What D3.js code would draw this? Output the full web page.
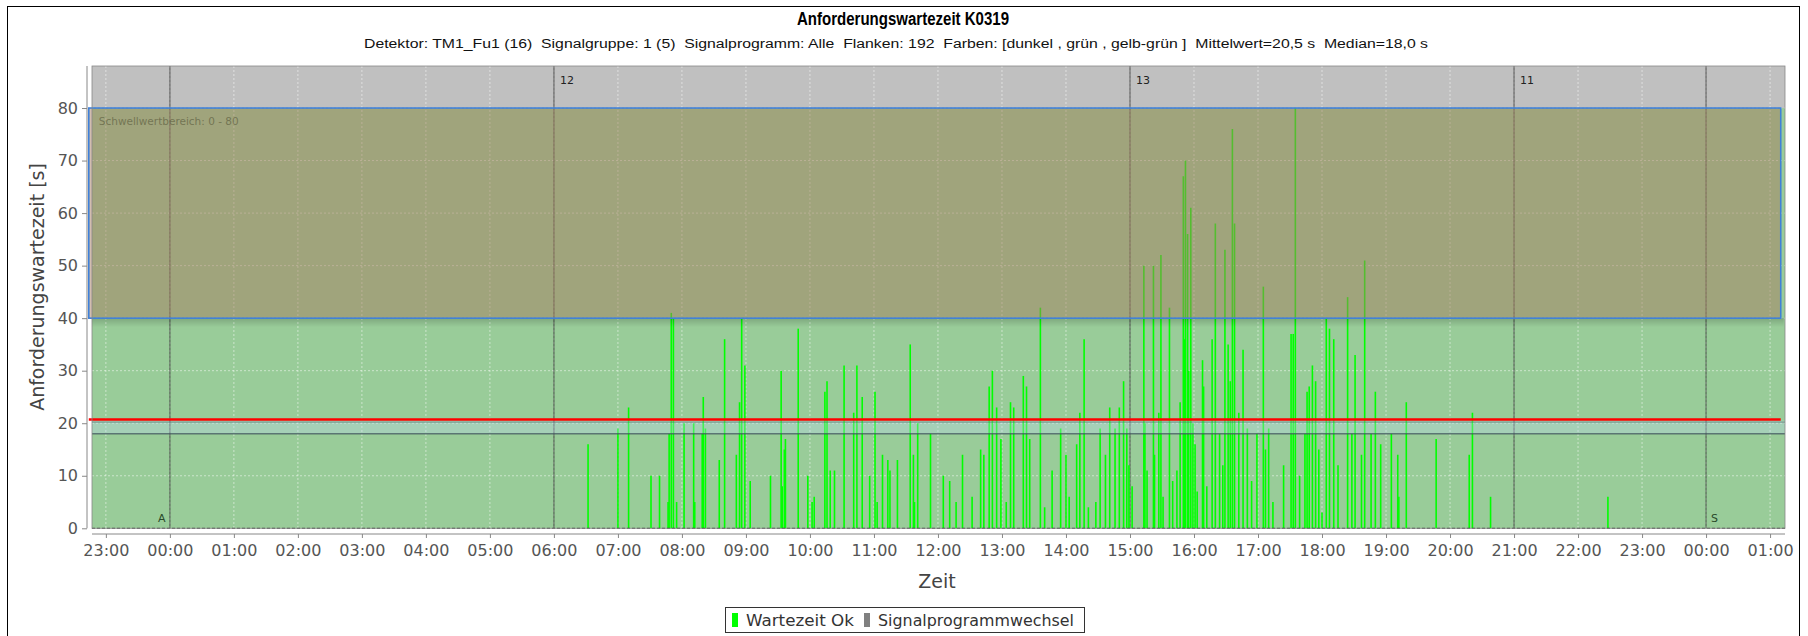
<!DOCTYPE html>
<html><head><meta charset="utf-8">
<script src="https://cdn.jsdelivr.net/npm/d3@7"></script>
<style>
html,body{margin:0;padding:0;background:#fff;}
svg{display:block;}
text{font-family:"DejaVu Sans",sans-serif;}
</style></head><body>
<svg id="chart" width="1808" height="636"></svg>
<script>
// ---- data ----
const waitTimes = ["06:32","07:00","07:10","07:31","07:39","07:47","07:48","07:50","07:52","07:55",
"08:02","08:11","08:12","08:19","08:20","08:22","08:35","08:40","08:51","08:54","08:56","08:59",
"09:04","09:23","09:33","09:34","09:36","09:37","09:49","09:58",
"10:02","10:04","10:14","10:16","10:19","10:23","10:32","10:41","10:44","10:49","10:56",
"11:01","11:03","11:08","11:13","11:15","11:22","11:34","11:37","11:38","11:41","11:53",
"12:05","12:11","12:17","12:23","12:32","12:40","12:43","12:48","12:51","12:55","12:59",
"13:04","13:08","13:11","13:20","13:23","13:26","13:36","13:40","13:47","13:55",
"14:00","14:03","14:10","14:13","14:17","14:21","14:28","14:32","14:37","14:41","14:46","14:50","14:54","14:57","14:59",
"15:02","15:13","15:14","15:16","15:22","15:23","15:27","15:29","15:31","15:37","15:40","15:44","15:47","15:50","15:51","15:52","15:54","15:55","15:57","15:59",
"16:01","16:03","16:08","16:09","16:12","16:17","16:20","16:24","16:27","16:29","16:32","16:34","16:36","16:38","16:42","16:46","16:50","16:54","16:59",
"17:05","17:07","17:10","17:14","17:24","17:31","17:33","17:35","17:39","17:44","17:46","17:48","17:51","17:54","17:57",
"18:00","18:04","18:07","18:11","18:15","18:24","18:28","18:31","18:37","18:40","18:46","18:50","18:55",
"19:05","19:11","19:12","19:19","19:47","20:18","20:21","20:38","22:28"];
const waitValues = [16,19,23,10,10,5,18,41,40,5,
20,20,5,18,25,19,13,36,14,24,40,31,
9,10,30,8,15,17,38,10,
5,6,26,28,11,11,31,22,31,25,10,
26,5,14,13,11,13,35,14,5,20,18,
10,9,5,14,6,15,14,27,30,23,17,
5,24,23,29,27,17,42,4,11,19,
14,6,16,22,36,4,5,19,14,23,19,23,28,19,12,
8,50,20,11,50,14,22,52,6,42,9,11,24,67,36,70,56,30,61,20,
16,7,32,27,8,36,58,18,12,53,35,28,76,58,22,34,19,9,18,
46,15,19,5,12,37,37,80,10,18,26,27,31,28,15,
3,40,38,36,12,44,18,33,14,51,18,26,16,
18,14,6,24,17,14,22,6,6];
const dataDay = "2000-01-02";
const programTimes = ["2000-01-02 00:00","2000-01-02 06:00","2000-01-02 15:00","2000-01-02 21:00","2000-01-03 00:00"];
const programLabels = ["A","12","13","11","S"];
const yTicks = [0,10,20,30,40,50,60,70,80];
const xDomain = ["2000-01-01 22:47","2000-01-03 01:14"];
const thresholdTimes = ["2000-01-01 22:44","2000-01-03 01:10"];
const thresholdValues = [40,80];
const greenRange = [0,80];
const meanValue = 20.5, medianValue = 18.0;
const yMax = 88;
const legendLabels = ["Wartezeit Ok","Signalprogrammwechsel"];
const titleText = "Anforderungswartezeit K0319";
const subtitleText = "Detektor: TM1_Fu1 (16)  Signalgruppe: 1 (5)  Signalprogramm: Alle  Flanken: 192  Farben: [dunkel , grün , gelb-grün ]  Mittelwert=20,5 s  Median=18,0 s";

// ---- layout ----
const L = 92, R = 1785, T = 66, B = 528.3;
const parse = d3.timeParse("%Y-%m-%d %H:%M");
const svg = d3.select("#chart");

const x = d3.scaleTime().domain(xDomain.map(parse)).range([L, R]);
const y = d3.scaleLinear().domain([0, yMax]).range([B, T]);

// outer border
svg.append("rect").attr("x",7.5).attr("y",6.5).attr("width",1792).attr("height",640)
  .attr("fill","none").attr("stroke","#000").attr("stroke-width",1);

// titles
svg.append("text").attr("x",903).attr("y",25).attr("text-anchor","middle")
  .style("font-family","'Liberation Sans Narrow','Liberation Sans',Arial,sans-serif")
  .style("font-weight","bold").style("font-size","18px")
  .attr("textLength",212).attr("lengthAdjust","spacingAndGlyphs").text(titleText);
svg.append("text").attr("x",896).attr("y",47.5).attr("text-anchor","middle")
  .style("font-family","'Liberation Sans',Arial,sans-serif").style("font-size","12.5px")
  .style("white-space","pre").attr("fill","#111")
  .attr("textLength",1064).attr("lengthAdjust","spacingAndGlyphs").text(subtitleText);

// plot background
svg.append("rect").attr("x",L).attr("y",T).attr("width",R-L).attr("height",B-T).attr("fill","#c0c0c0");
// green interval 0..80
svg.append("rect").attr("x",L).attr("y",y(greenRange[1])).attr("width",R-L)
  .attr("height",y(greenRange[0])-y(greenRange[1])).attr("fill","rgba(0,255,0,0.2)");

// gridlines
const hourTicks = x.ticks(d3.timeHour.every(1));
svg.append("g").selectAll("line").data(hourTicks).join("line")
  .attr("x1",d=>x(d)).attr("x2",d=>x(d)).attr("y1",T).attr("y2",B)
  .attr("stroke","rgba(255,255,255,0.5)").attr("stroke-width",1).attr("stroke-dasharray","2,2");
svg.append("g").selectAll("line").data(yTicks.filter(d=>d>0)).join("line")
  .attr("x1",L).attr("x2",R).attr("y1",d=>y(d)).attr("y2",d=>y(d))
  .attr("stroke","rgba(255,255,255,0.5)").attr("stroke-width",1).attr("stroke-dasharray","2,2");

// program change lines
const progDates = programTimes.map(parse);
svg.append("g").selectAll("line").data(progDates).join("line")
  .attr("x1",d=>x(d)).attr("x2",d=>x(d)).attr("y1",T).attr("y2",B)
  .attr("stroke","rgba(50,50,50,0.5)").attr("stroke-width",1.6);

// bars
const dayParse = t => parse(dataDay + " " + t);
svg.append("g").selectAll("line").data(waitTimes.map((t,i)=>({t:dayParse(t), v:waitValues[i]}))).join("line")
  .attr("x1",d=>x(d.t)).attr("x2",d=>x(d.t)).attr("y1",y(0)).attr("y2",d=>y(d.v))
  .attr("stroke","#00ff00").attr("stroke-width",1.6);

// baseline dashed
svg.append("line").attr("x1",L).attr("x2",R).attr("y1",y(0)).attr("y2",y(0))
  .attr("stroke","#333").attr("stroke-dasharray","3,2").attr("stroke-width",1);

// median/mean band
const tx0 = x(parse(thresholdTimes[0])), tx1 = x(parse(thresholdTimes[1]));
svg.append("rect").attr("x",L).attr("y",y(meanValue)).attr("width",R-L)
  .attr("height",y(medianValue)-y(meanValue)).attr("fill","rgba(190,215,240,0.35)");
svg.append("line").attr("x1",L).attr("x2",R).attr("y1",y(medianValue)).attr("y2",y(medianValue))
  .attr("stroke","rgba(60,80,90,0.7)").attr("stroke-width",1.5);
svg.append("line").attr("x1",L).attr("x2",R).attr("y1",y(meanValue)+1.5).attr("y2",y(meanValue)+1.5)
  .attr("stroke","rgba(60,80,90,0.5)").attr("stroke-width",1);

// shadow below threshold box
const grad = svg.append("defs").append("linearGradient").attr("id","sh").attr("x1",0).attr("x2",0).attr("y1",0).attr("y2",1);
grad.append("stop").attr("offset","0").attr("stop-color","rgba(0,0,0,0.18)");
grad.append("stop").attr("offset","1").attr("stop-color","rgba(0,0,0,0)");
svg.append("rect").attr("x",tx0+3).attr("y",y(thresholdValues[0])).attr("width",tx1-tx0)
  .attr("height",9).attr("fill","url(#sh)");

// threshold box (overlay)
svg.append("rect").attr("x",tx0).attr("y",y(thresholdValues[1])).attr("width",tx1-tx0)
  .attr("height",y(thresholdValues[0])-y(thresholdValues[1]))
  .attr("fill","rgba(168,124,96,0.5)").attr("stroke","#3f80d8").attr("stroke-width",1.6);
svg.append("text").attr("x",tx0+10).attr("y",y(thresholdValues[1])+17)
  .style("font-size","10.5px").attr("fill","rgba(100,100,70,0.75)").text("Schwellwertbereich: 0 - 80");

// mean line
svg.append("line").attr("x1",tx0).attr("x2",tx1).attr("y1",y(meanValue)-1).attr("y2",y(meanValue)-1)
  .attr("stroke","#ff0000").attr("stroke-width",2.5);

// program labels
svg.append("g").selectAll("text").data(progDates).join("text")
  .attr("x",(d,i)=> i===0 ? x(d)-8 : (i===4 ? x(d)+5 : x(d)+6))
  .attr("y",(d,i)=> (i===0||i===4) ? B-6 : T+18)
  .attr("text-anchor",(d,i)=> i===0 ? "middle" : "start")
  .style("font-size","11px").attr("fill",(d,i)=>(i===0||i===4)?"#2a4a2a":"#222")
  .text((d,i)=>programLabels[i]);

// plot outline
svg.append("rect").attr("x",L).attr("y",T).attr("width",R-L).attr("height",B-T)
  .attr("fill","none").attr("stroke","#888").attr("stroke-width",0.8);

// axes
const xAxis = svg.append("g").attr("transform","translate(0,534)")
  .call(d3.axisBottom(x).ticks(d3.timeHour.every(1)).tickFormat(d3.timeFormat("%H:%M")).tickSize(4).tickPadding(7).tickSizeOuter(0));
xAxis.select(".domain").attr("stroke","#888").attr("d",`M${L},0H${R}`);
xAxis.selectAll(".tick line").attr("stroke","#888");
xAxis.selectAll("text").style("font-size","16px").attr("fill","#555").style("font-family","'DejaVu Sans',sans-serif");

const yAxis = svg.append("g").attr("transform","translate(87,0)")
  .call(d3.axisLeft(y).tickValues(yTicks).tickSize(5).tickPadding(4).tickSizeOuter(0));
yAxis.select(".domain").attr("stroke","#888").attr("d",`M0,${T}V${B}`);
yAxis.selectAll(".tick line").attr("stroke","#888");
yAxis.selectAll("text").style("font-size","16px").attr("fill","#555").style("font-family","'DejaVu Sans',sans-serif");

// axis titles
svg.append("text").attr("transform","translate(44,287) rotate(-90)").attr("text-anchor","middle")
  .style("font-size","19px").attr("fill","#444").text("Anforderungswartezeit [s]");
svg.append("text").attr("x",937).attr("y",588).attr("text-anchor","middle")
  .style("font-size","19px").attr("fill","#444").text("Zeit");

// legend
const lg = svg.append("g");
lg.append("rect").attr("x",725.5).attr("y",607.5).attr("width",359).attr("height",25)
  .attr("fill","#fff").attr("stroke","#333").attr("stroke-width",1);
const legendColors = ["#00ff00","#808080"];
const legendX = [732, 864];
const legendLen = [108, 196];
legendLabels.forEach((lab,i)=>{
  lg.append("rect").attr("x",legendX[i]).attr("y",613).attr("width",6).attr("height",14).attr("fill",legendColors[i]);
  lg.append("text").attr("x",legendX[i]+14).attr("y",626).style("font-size","15px").attr("fill","#333")
    .attr("textLength",legendLen[i]).attr("lengthAdjust","spacingAndGlyphs").text(lab);
});
</script>
</body></html>
